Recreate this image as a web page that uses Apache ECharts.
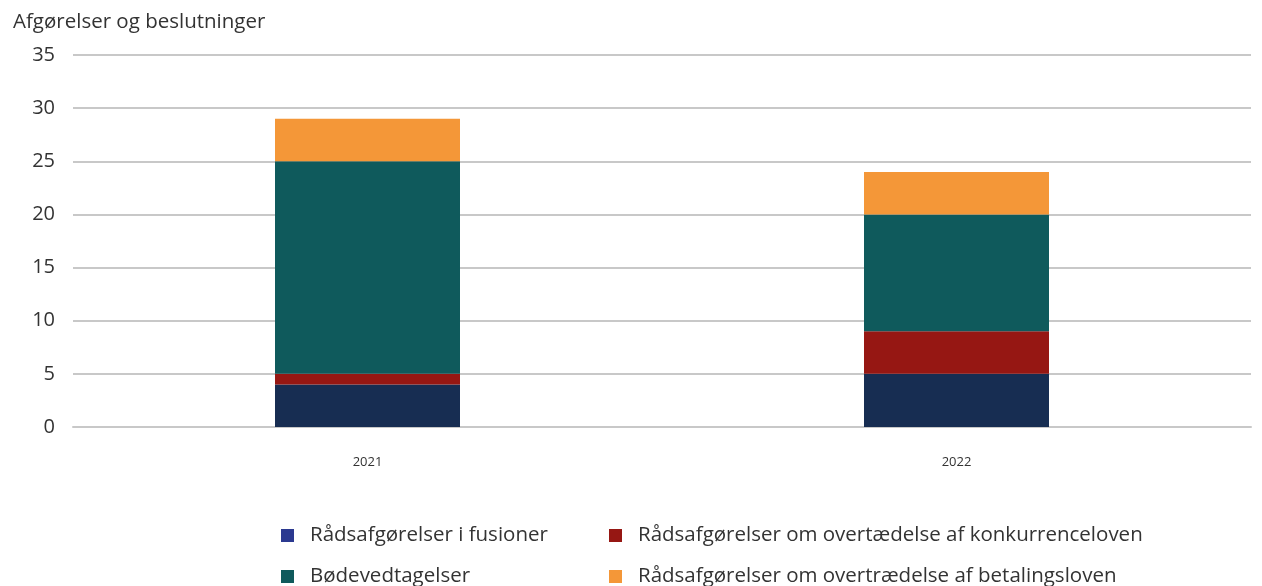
<!DOCTYPE html>
<html><head><meta charset="utf-8">
<script src="https://cdn.jsdelivr.net/npm/echarts@6/dist/echarts.min.js"></script>
<style>html,body{margin:0;padding:0;background:#fff}#c{width:1262px;height:586px}</style>
</head><body><div id="c"></div>
<script>
const categories = ['2021', '2022'];
const fusioner = [4, 5];
const konkurrence = [1, 4];
const bode = [20, 11];
const betaling = [4, 4];
const yTicks = {min: 0, max: 35, interval: 5};
const names = ['Rådsafgørelser i fusioner', 'Rådsafgørelser om overtædelse af konkurrenceloven', 'Bødevedtagelser', 'Rådsafgørelser om overtrædelse af betalingsloven'];
const colors = ['#172d52', '#961713', '#0f5a5c', '#f49738'];
const FONT = '"Open Sans"';
const chart = echarts.init(document.getElementById('c'));
const mk = (i, data) => ({name: names[i], type: 'bar', stack: 's', data, barWidth: 185, itemStyle: {color: colors[i]}});
const legendText = {fontFamily: FONT, fontSize: 20.5, lineHeight: 18, color: '#333', padding: [0, 0, 0, 11]};
const legendBase = {orient: 'vertical', top: 520, height: 66, icon: 'rect', itemWidth: 13, itemHeight: 13, itemGap: 20, textStyle: legendText};
chart.setOption({
  animation: false,
  textStyle: {fontFamily: FONT},
  title: {text: 'Afgørelser og beslutninger', left: 8, top: 7, textStyle: {fontFamily: FONT, fontSize: 20.5, fontWeight: 'normal', color: '#333'}},
  grid: {left: 73, right: 11, top: 55, bottom: 159, containLabel: false},
  legend: [
    Object.assign({}, legendBase, {left: 276, data: [{name: names[0], itemStyle: {color: '#2b3990'}}, {name: names[2]}]}),
    Object.assign({}, legendBase, {left: 604, data: [{name: names[1]}, {name: names[3]}]})
  ],
  xAxis: {type: 'category', data: categories,
    axisLine: {show: true, lineStyle: {color: '#c8c8c8', width: 2}}, axisTick: {show: false},
    axisLabel: {fontFamily: FONT, fontSize: 13, color: '#333', margin: 29}},
  yAxis: {type: 'value', min: yTicks.min, max: yTicks.max, interval: yTicks.interval,
    axisLine: {show: false}, axisTick: {show: false},
    axisLabel: {fontFamily: FONT, fontSize: 20, color: '#333', margin: 18}},
  series: [mk(0, fusioner), mk(1, konkurrence), mk(2, bode), mk(3, betaling)]
});
chart.setOption({yAxis: {splitLine: {lineStyle: {color: '#c8c8c8', width: 2}}}});
</script></body></html>
